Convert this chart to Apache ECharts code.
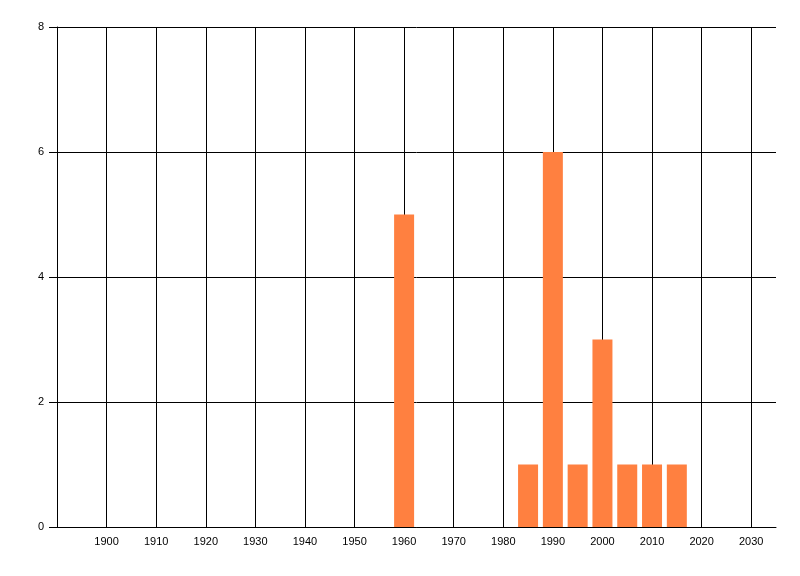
<!DOCTYPE html>
<html>
<head>
<meta charset="utf-8">
<script src="https://cdn.jsdelivr.net/npm/echarts@6/dist/echarts.min.js"></script>
<style>html,body{margin:0;padding:0;background:#fff}#c{width:800px;height:576px}</style>
</head>
<body>
<div id="c"></div>
<script>
const years = [1960, 1985, 1990, 1995, 2000, 2005, 2010, 2015];
const counts = [5, 1, 6, 1, 3, 1, 1, 1];
const xMin = 1890, xMax = 2035, xStep = 10;
const yMin = 0, yMax = 8, yStep = 2;

const chart = echarts.init(document.getElementById('c'), null, {renderer: 'canvas'});
const font = {fontFamily: 'Liberation Sans', fontSize: 11, color: '#000'};
chart.setOption({
  animation: false,
  backgroundColor: '#fff',
  grid: {left: 57, right: 24, top: 27, bottom: 49, containLabel: false},
  xAxis: {
    type: 'value', min: xMin, max: xMax, interval: xStep,
    axisLine: {show: true, lineStyle: {color: '#000', width: 1}},
    axisTick: {show: false},
    axisLabel: Object.assign({margin: 9, showMinLabel: false, showMaxLabel: false,
      formatter: v => (v === xMin || v === xMax) ? '' : String(v)}, font),
    splitLine: {show: true, showMinLine: false, showMaxLine: false, lineStyle: {color: '#000', width: 1}}
  },
  yAxis: {
    type: 'value', min: yMin, max: yMax, interval: yStep,
    axisLine: {show: true, lineStyle: {color: '#000', width: 1}},
    axisTick: {show: true, length: 8, lineStyle: {color: '#000'}},
    axisLabel: Object.assign({margin: 13}, font),
    splitLine: {show: true, lineStyle: {color: '#000', width: 1}}
  },
  series: [{
    type: 'bar',
    data: years.map((y, i) => [y, counts[i]]),
    barWidth: 20,
    itemStyle: {color: '#FF8040'}
  }]
});
</script>
</body>
</html>
